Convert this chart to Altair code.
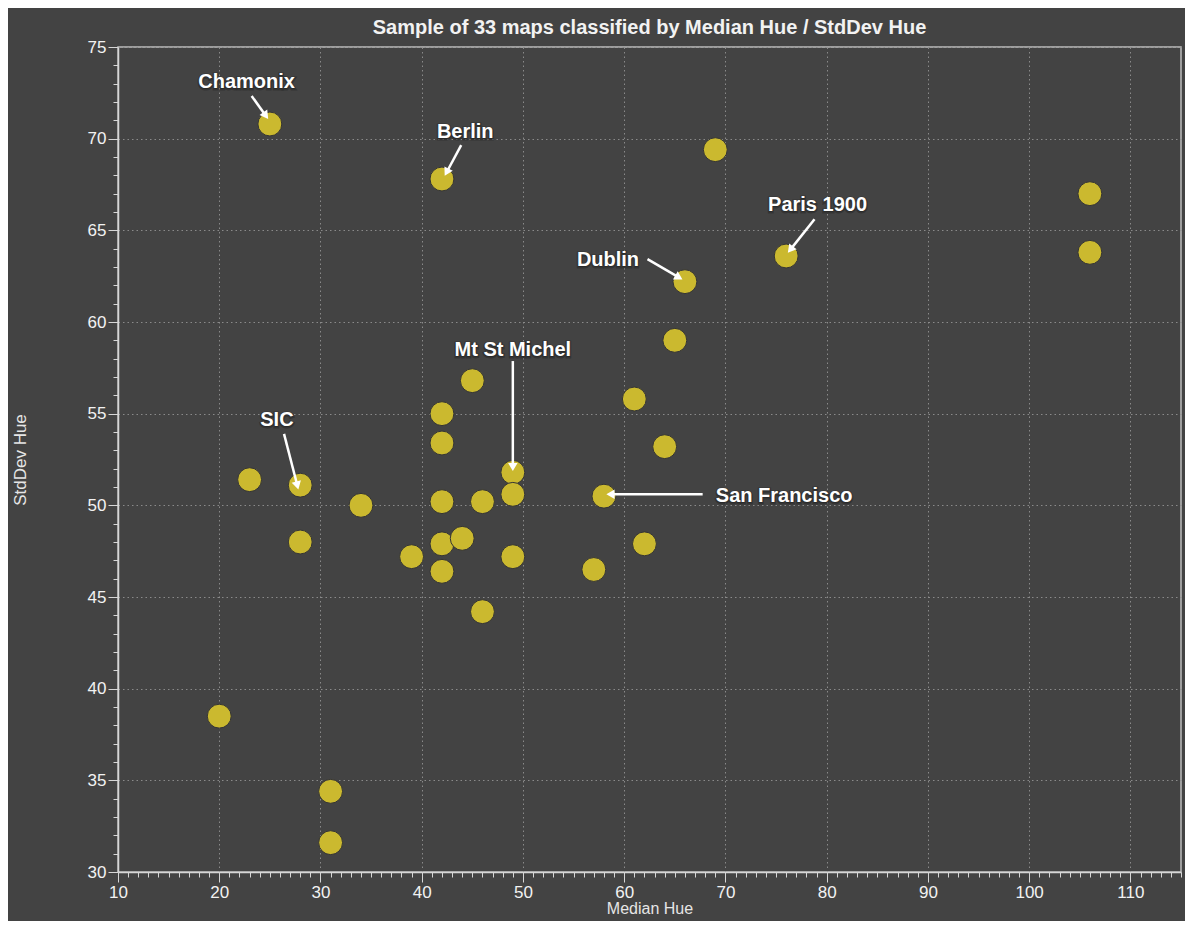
import math
import altair as alt
import pandas as pd

# ---- data ----
median_hue = [25, 42, 69, 106, 106, 76, 66, 65, 61, 45, 42, 42, 64, 49, 49, 58, 46,
              42, 28, 23, 34, 28, 39, 42, 44, 42, 49, 46, 57, 62, 20, 31, 31]
stddev_hue = [70.8, 67.8, 69.4, 67.0, 63.8, 63.6, 62.2, 59.0, 55.8, 56.8, 55.0, 53.4,
              53.2, 51.8, 50.6, 50.5, 50.2, 50.2, 51.1, 51.4, 50.0, 48.0, 47.2, 47.9,
              48.2, 46.4, 47.2, 44.2, 46.5, 47.9, 38.5, 34.4, 31.6]

label_names = ["Chamonix", "Berlin", "Paris 1900", "Dublin", "Mt St Michel", "SIC", "San Francisco"]
label_x = [22.7, 44.3, 79.1, 58.4, 49.0, 25.7, 75.8]
label_y = [73.1, 70.35, 66.4, 63.4, 58.5, 54.65, 50.5]
arrow_x0 = [23.2, 43.9, 78.8, 62.3, 49.0, 26.4, 67.75]
arrow_y0 = [72.33, 69.65, 65.6, 63.43, 57.87, 53.9, 50.6]
arrow_x1 = [24.8, 42.3, 76.2, 65.7, 49.0, 27.8, 58.3]
arrow_y1 = [71.1, 68.0, 63.8, 62.34, 51.9, 50.9, 50.6]

x_ticks = list(range(10, 116))
y_ticks = list(range(30, 76))

# ---- layout ----
W, H = 1063, 825
X_DOM = [10, 115]
Y_DOM = [30, 75]
px_x = W / (X_DOM[1] - X_DOM[0])
px_y = H / (Y_DOM[1] - Y_DOM[0])

BG = "#434343"
FG = "#f2f2f2"
AXC = "#d6d6d6"
FONT = "Liberation Sans"

points = pd.DataFrame({"x": median_hue, "y": stddev_hue})
labels = pd.DataFrame({"name": label_names, "x": label_x, "y": label_y})

heads = []
for x0, y0, x1, y1 in zip(arrow_x0, arrow_y0, arrow_x1, arrow_y1):
    dx = (x1 - x0) * px_x
    dy = -(y1 - y0) * px_y
    ang = math.degrees(math.atan2(dx, -dy)) % 360
    L = math.hypot(dx, dy)
    back = 3.5
    hx = x1 - (dx / L) * back / px_x
    hy = y1 + (dy / L) * back / px_y
    heads.append({"x": x0, "y": y0, "x1": x1, "y1": y1, "hx": hx, "hy": hy, "angle": ang})
arrows = pd.DataFrame(heads)

xscale = alt.Scale(domain=X_DOM, nice=False, zero=False)
yscale = alt.Scale(domain=Y_DOM, nice=False, zero=False)

x_axis = alt.Axis(
    values=x_ticks,
    labelExpr="datum.value % 10 === 0 ? datum.label : ''",
    tickSize={"condition": {"test": "datum.value % 10 === 0", "value": 10}, "value": 5},
    gridOpacity={"condition": {"test": "datum.value % 10 === 0", "value": 1}, "value": 0},
    labelOverlap=False, labelFlush=False,
    title="Median Hue", titlePadding=0, titleFontSize=16,
)
y_axis = alt.Axis(
    values=y_ticks,
    labelExpr="datum.value % 5 === 0 ? datum.label : ''",
    tickSize={"condition": {"test": "datum.value % 5 === 0", "value": 10}, "value": 5},
    gridOpacity={"condition": {"test": "datum.value % 5 === 0", "value": 1}, "value": 0},
    labelOverlap=False, labelFlush=False,
    title="StdDev Hue", titlePadding=58,
)


def X(field):
    return alt.X(field, scale=xscale, axis=x_axis, title="Median Hue")


def Y(field):
    return alt.Y(field, scale=yscale, axis=y_axis, title="StdDev Hue")


dots = alt.Chart(points).mark_circle(
    size=570, color="#cbb92f", opacity=1, stroke="#343434", strokeWidth=1
).encode(x=X("x:Q"), y=Y("y:Q"))

shafts = alt.Chart(arrows).mark_rule(color="white", strokeWidth=2.5).encode(
    x=X("x:Q"), y=Y("y:Q"), x2="hx:Q", y2="hy:Q",
)
tips = alt.Chart(arrows).mark_point(
    shape="triangle-up", filled=True, color="white", opacity=1, size=90
).encode(
    x=X("hx:Q"), y=Y("hy:Q"),
    angle=alt.Angle("angle:Q", scale=None),
)

halo = alt.Chart(labels).mark_text(
    font=FONT, fontSize=20, fontWeight="bold", color="#2a2a2a",
    stroke="#2a2a2a", strokeWidth=3, strokeOpacity=0.6, align="center", baseline="middle", dy=1
).encode(x=X("x:Q"), y=Y("y:Q"), text="name:N")
texts = alt.Chart(labels).mark_text(
    font=FONT, fontSize=20, fontWeight="bold", color="white", align="center", baseline="middle"
).encode(x=X("x:Q"), y=Y("y:Q"), text="name:N")

chart = alt.layer(dots, shafts, tips, halo, texts).properties(
    width=W, height=H,
    autosize=alt.AutoSizeParams(type="none"),
    padding={"left": 110, "top": 39, "right": 4, "bottom": 49},
    background=BG,
    title=alt.TitleParams(
        "Sample of 33 maps classified by Median Hue / StdDev Hue",
        font=FONT, fontSize=20, fontWeight="bold", color=FG, anchor="middle", offset=0,
    ),
).configure_view(
    stroke="#bdbdbd", strokeWidth=1.5
).configure_axis(
    domainColor=AXC, domainWidth=1.5, tickColor=AXC, tickWidth=1,
    gridColor="#8a8a8a", gridDash=[1.5, 3], gridWidth=1,
    labelFont=FONT, labelFontSize=17, labelColor=FG, labelPadding=2,
    titleFont=FONT, titleFontSize=17, titleFontWeight="normal", titleColor="#e6e6e6",
)

chart.save("out.html", embed_options={"renderer": "svg", "actions": False})
